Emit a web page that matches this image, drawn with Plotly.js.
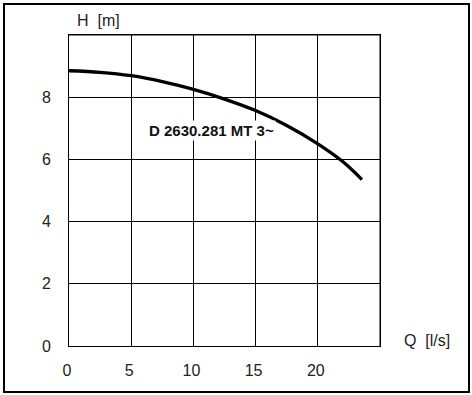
<!DOCTYPE html>
<html><head><meta charset="utf-8">
<script src="https://cdn.plot.ly/plotly-3.0.1.min.js"></script>
<style>
html,body{margin:0;padding:0;background:#fff;}
#wrap{position:relative;width:472px;height:395px;}
#frame{position:absolute;left:3px;top:3px;width:463px;height:386px;border:2px solid #000;pointer-events:none;}
</style></head>
<body>
<div id="wrap"><div id="chart" style="width:472px;height:395px;"></div><div id="frame"></div></div>
<script>
const flowQ = [0, 2.5, 5, 7.5, 10, 12.5, 15, 17.5, 20, 22, 23.55];
const headH = [8.85, 8.80, 8.69, 8.50, 8.25, 7.94, 7.57, 7.09, 6.50, 5.93, 5.35];
const xTicks = [0, 5, 10, 15, 20];
const yTicks = [0, 2, 4, 6, 8];
const curveName = "D 2630.281 MT 3~";
const tickFont = {family: "Liberation Sans, Arial, sans-serif", size: 16, color: "#222"};

const trace = {
  x: flowQ, y: headH, mode: "lines", type: "scatter",
  line: {color: "#000", width: 3.3, shape: "spline", smoothing: 1},
  hoverinfo: "skip", showlegend: false
};

const layout = {
  width: 472, height: 395,
  margin: {l: 69, r: 92, t: 35, b: 49, pad: 0},
  paper_bgcolor: "#fff", plot_bgcolor: "#fff",
  showlegend: false,
  xaxis: {
    range: [0, 25],
    tickvals: xTicks, ticktext: xTicks.map(String),
    showgrid: true, gridcolor: "#000", gridwidth: 1,
    showline: true, linecolor: "#000", linewidth: 1, mirror: true,
    zeroline: false, ticks: "", ticklabelstandoff: 10, ticklabelshift: -2,
    tickfont: tickFont, fixedrange: true
  },
  yaxis: {
    range: [0, 10],
    tickvals: yTicks, ticktext: yTicks.map(String),
    showgrid: true, gridcolor: "#000", gridwidth: 1,
    showline: true, linecolor: "#000", linewidth: 1, mirror: true,
    zeroline: false, ticks: "", ticklabelstandoff: 14,
    tickfont: tickFont, fixedrange: true
  },
  shapes: [
    {type: "line", xref: "paper", yref: "y", x0: 0, x1: 1, y0: 10, y1: 10, line: {color: "#000", width: 1}},
    {type: "line", xref: "x", yref: "paper", x0: 25, x1: 25, y0: 0, y1: 1, line: {color: "#000", width: 1}}
  ],
  annotations: [
    {text: "H\u00a0 [m]", xref: "paper", yref: "paper", x: 0.02, y: 1.046, xanchor: "left", yanchor: "middle",
     showarrow: false, font: tickFont},
    {text: "Q\u00a0 [l/s]", xref: "paper", yref: "paper", x: 1.07, y: 0.017, xanchor: "left", yanchor: "middle",
     showarrow: false, font: tickFont},
    {text: "<b>" + curveName + "</b>", xref: "x", yref: "y", x: 11.47, y: 6.93, xanchor: "center", yanchor: "middle",
     showarrow: false, bgcolor: "#fff", borderpad: 1,
     font: {family: "Liberation Sans, Arial, sans-serif", size: 15, color: "#111"}}
  ]
};

Plotly.newPlot("chart", [trace], layout, {displayModeBar: false, staticPlot: true});
</script>
</body></html>
